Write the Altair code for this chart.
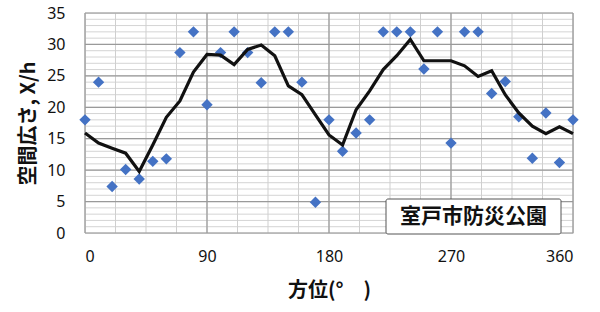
import altair as alt
import pandas as pd

# Data
angles = [0, 10, 20, 30, 40, 50, 60, 70, 80, 90, 100, 110, 120, 130, 140, 150, 160, 170, 180,
          190, 200, 210, 220, 230, 240, 250, 260, 270, 280, 290, 300, 310, 320, 330, 340, 350, 360]
points = [18, 24, 7.4, 10.1, 8.6, 11.4, 11.8, 28.7, 32, 20.4, 28.7, 32, 28.7, 23.9, 32, 32, 24, 4.9, 18,
          13, 15.9, 18, 32, 32, 32, 26.1, 32, 14.3, 32, 32, 22.2, 24.1, 18.5, 11.9, 19.1, 11.2, 18]
smooth = [15.9, 14.3, 13.5, 12.7, 9.8, 14.0, 18.4, 21.0, 25.6, 28.4, 28.3, 26.8, 29.2, 29.9, 28.2, 23.4, 22.0, 18.8, 15.6,
          14.0, 19.6, 22.6, 26.0, 28.2, 30.8, 27.4, 27.4, 27.4, 26.6, 24.9, 25.8, 22.0, 19.1, 17.0, 15.8, 16.9, 15.8]

x_major = [0, 90, 180, 270, 360]
x_minor = [0, 22.5, 45, 67.5, 90, 112.5, 135, 157.5, 180, 202.5, 225, 247.5, 270, 292.5, 315, 337.5, 360]
y_major = [0, 5, 10, 15, 20, 25, 30, 35]
y_minor = list(range(0, 36))

label_text = "室戸市防災公園"
x_title = "方位(°　)"
y_title = "空間広さ, X/h"

df = pd.DataFrame({"angle": angles, "pt": points, "avg": smooth})

W, H = 488, 220
xs = alt.Scale(domain=[0, 360], nice=False)
ys = alt.Scale(domain=[0, 35], nice=False)

x_axis = alt.Axis(values=x_major, title=x_title, grid=False, ticks=False, domain=False,
                  labelFontSize=16, labelFont="Noto Sans", labelColor="#111", labelPadding=15,
                  titleFont="Noto Sans CJK JP", titleFontSize=20, titleFontWeight="bold",
                  titleColor="#111", titlePadding=16)
y_axis = alt.Axis(values=y_major, title=y_title, grid=False, ticks=False, domain=False,
                  labelFontSize=16, labelFont="Noto Sans", labelColor="#111", labelPadding=20,
                  titleFont="Noto Sans CJK JP", titleFontSize=20, titleFontWeight="bold",
                  titleColor="#111", titlePadding=8)

grid_minor_y = alt.Chart(pd.DataFrame({"v": y_minor})).mark_rule(color="#d4d4d4", strokeWidth=1).encode(
    y=alt.Y("v:Q", scale=ys, axis=y_axis))
grid_minor_x = alt.Chart(pd.DataFrame({"v": x_minor})).mark_rule(color="#cfcfcf", strokeWidth=1).encode(
    x=alt.X("v:Q", scale=xs, axis=x_axis))
grid_major_y = alt.Chart(pd.DataFrame({"v": y_major})).mark_rule(color="#9a9a9a", strokeWidth=1.2).encode(
    y=alt.Y("v:Q", scale=ys, axis=y_axis))
grid_major_x = alt.Chart(pd.DataFrame({"v": x_major})).mark_rule(color="#9a9a9a", strokeWidth=1.2).encode(
    x=alt.X("v:Q", scale=xs, axis=x_axis))

base = alt.Chart(df)
pts = base.mark_point(shape="diamond", filled=True, color="#4472C4", size=130, opacity=1).encode(
    x=alt.X("angle:Q", scale=xs, axis=x_axis),
    y=alt.Y("pt:Q", scale=ys, axis=y_axis),
)
line = base.mark_line(color="#111111", strokeWidth=3.2).encode(
    x=alt.X("angle:Q", scale=xs, axis=x_axis), y=alt.Y("avg:Q", scale=ys, axis=y_axis))

box = alt.Chart(pd.DataFrame({"t": [label_text]})).mark_rect(
    fill="white", stroke="#555555", strokeWidth=1, cornerRadius=2).encode(
    x=alt.value(301), x2=alt.value(476), y=alt.value(186), y2=alt.value(221))
txt = alt.Chart(pd.DataFrame({"t": [label_text]})).mark_text(
    font="Noto Sans CJK JP", fontSize=21, fontWeight="bold", color="#111", align="center", baseline="middle").encode(
    x=alt.value(388.5), y=alt.value(204), text="t:N")

chart = alt.layer(grid_minor_y, grid_minor_x, grid_major_y, grid_major_x, pts, line, box, txt).properties(
    width=W, height=H, padding={"left": 85, "top": 13, "right": 27, "bottom": 79},
    autosize=alt.AutoSizeParams(type="none")
).configure_view(stroke="#888888", strokeWidth=1.2).configure(background="white")

chart.save("out.html", embed_options={"renderer": "svg", "actions": False})
